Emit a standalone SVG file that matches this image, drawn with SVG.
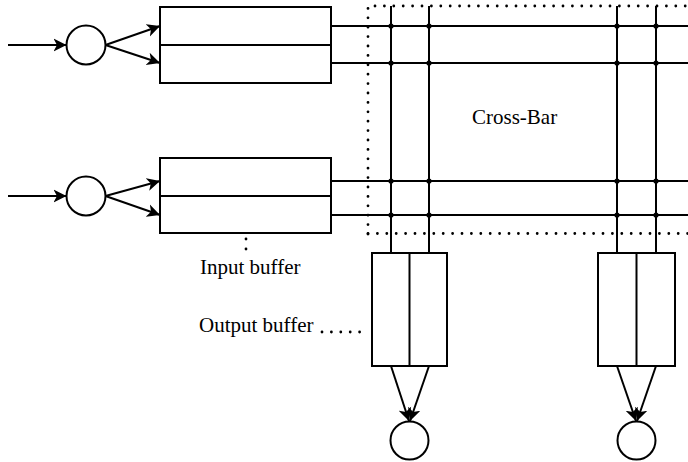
<svg xmlns="http://www.w3.org/2000/svg" width="688" height="462" viewBox="0 0 688 462">
<defs>
<marker id="ah" markerWidth="14" markerHeight="14" refX="13" refY="7" orient="auto" markerUnits="userSpaceOnUse">
<path d="M13,7 L0,0.5 L3.5,7 L0,13.5 Z" fill="#000"/>
</marker>
<style>
.ln{stroke:#000;stroke-width:2;fill:none}
.box{stroke:#000;stroke-width:2;fill:#fff}
.dot{stroke:#000;stroke-width:2.8;stroke-linecap:round;stroke-dasharray:0 9.4;fill:none}
.jn{fill:#000}
.lbl{font-size:21px;fill:#000}
</style>
</defs>
<rect width="688" height="462" fill="#fff"/>

<g id="crossbar">
<path class="dot" d="M368,234 L368,6 L688,6"/>
<path class="dot" d="M368,233.5 L688,233.5"/>
<g class="ln">
<line x1="331" y1="26" x2="688" y2="26"/>
<line x1="331" y1="63" x2="688" y2="63"/>
<line x1="331" y1="181" x2="688" y2="181"/>
<line x1="331" y1="215" x2="688" y2="215"/>
<line x1="391" y1="6" x2="391" y2="253"/>
<line x1="429" y1="6" x2="429" y2="253"/>
<line x1="617" y1="6" x2="617" y2="253"/>
<line x1="656" y1="6" x2="656" y2="253"/>
</g>
<g class="jn">
<circle cx="391" cy="26" r="2.6"/><circle cx="429" cy="26" r="2.6"/><circle cx="617" cy="26" r="2.6"/><circle cx="656" cy="26" r="2.6"/>
<circle cx="391" cy="63" r="2.6"/><circle cx="429" cy="63" r="2.6"/><circle cx="617" cy="63" r="2.6"/><circle cx="656" cy="63" r="2.6"/>
<circle cx="391" cy="181" r="2.6"/><circle cx="429" cy="181" r="2.6"/><circle cx="617" cy="181" r="2.6"/><circle cx="656" cy="181" r="2.6"/>
<circle cx="391" cy="215" r="2.6"/><circle cx="429" cy="215" r="2.6"/><circle cx="617" cy="215" r="2.6"/><circle cx="656" cy="215" r="2.6"/>
</g>
<text class="lbl" x="472" y="124" font-family="'Liberation Serif', 'Times New Roman', 'DejaVu Serif', serif">Cross-Bar</text>
</g>

<g id="in1">
<circle class="box" cx="86" cy="45" r="19.5"/>
<rect class="box" x="160" y="7" width="171" height="76"/>
<line class="ln" x1="160" y1="45" x2="331" y2="45"/>
</g>
<g id="in2">
<circle class="box" cx="86" cy="196" r="19.5"/>
<rect class="box" x="160" y="158" width="171" height="75"/>
<line class="ln" x1="160" y1="196" x2="331" y2="196"/>
</g>

<g id="out1">
<rect class="box" x="372" y="253" width="75" height="113"/>
<line class="ln" x1="409.5" y1="253" x2="409.5" y2="366"/>
<circle class="box" cx="409.5" cy="440.5" r="19"/>
</g>
<g id="out2">
<rect class="box" x="598" y="253" width="77" height="113"/>
<line class="ln" x1="636.5" y1="253" x2="636.5" y2="366"/>
<circle class="box" cx="636.5" cy="440.5" r="19"/>
</g>

<g id="connectors" class="ln">
<line x1="8" y1="45" x2="66.5" y2="45" marker-end="url(#ah)"/>
<line x1="105.5" y1="45" x2="160" y2="26" marker-end="url(#ah)"/>
<line x1="105.5" y1="45" x2="160" y2="63" marker-end="url(#ah)"/>
<line x1="8" y1="196" x2="66.5" y2="196" marker-end="url(#ah)"/>
<line x1="105.5" y1="196" x2="160" y2="181" marker-end="url(#ah)"/>
<line x1="105.5" y1="196" x2="160" y2="215" marker-end="url(#ah)"/>
<line x1="391" y1="366" x2="409" y2="421" marker-end="url(#ah)"/>
<line x1="429" y1="366" x2="410" y2="421" marker-end="url(#ah)"/>
<line x1="617" y1="366" x2="636" y2="421" marker-end="url(#ah)"/>
<line x1="656" y1="366" x2="637" y2="421" marker-end="url(#ah)"/>
</g>

<g id="labels">
<circle class="jn" cx="246" cy="239" r="1.4"/>
<circle class="jn" cx="246" cy="249" r="1.4"/>
<text class="lbl" x="200" y="274" font-family="'Liberation Serif', 'Times New Roman', 'DejaVu Serif', serif">Input buffer</text>
<text class="lbl" x="199" y="332" font-family="'Liberation Serif', 'Times New Roman', 'DejaVu Serif', serif">Output buffer</text>
<path class="dot" d="M322,332 L366,332"/>
</g>
</svg>
